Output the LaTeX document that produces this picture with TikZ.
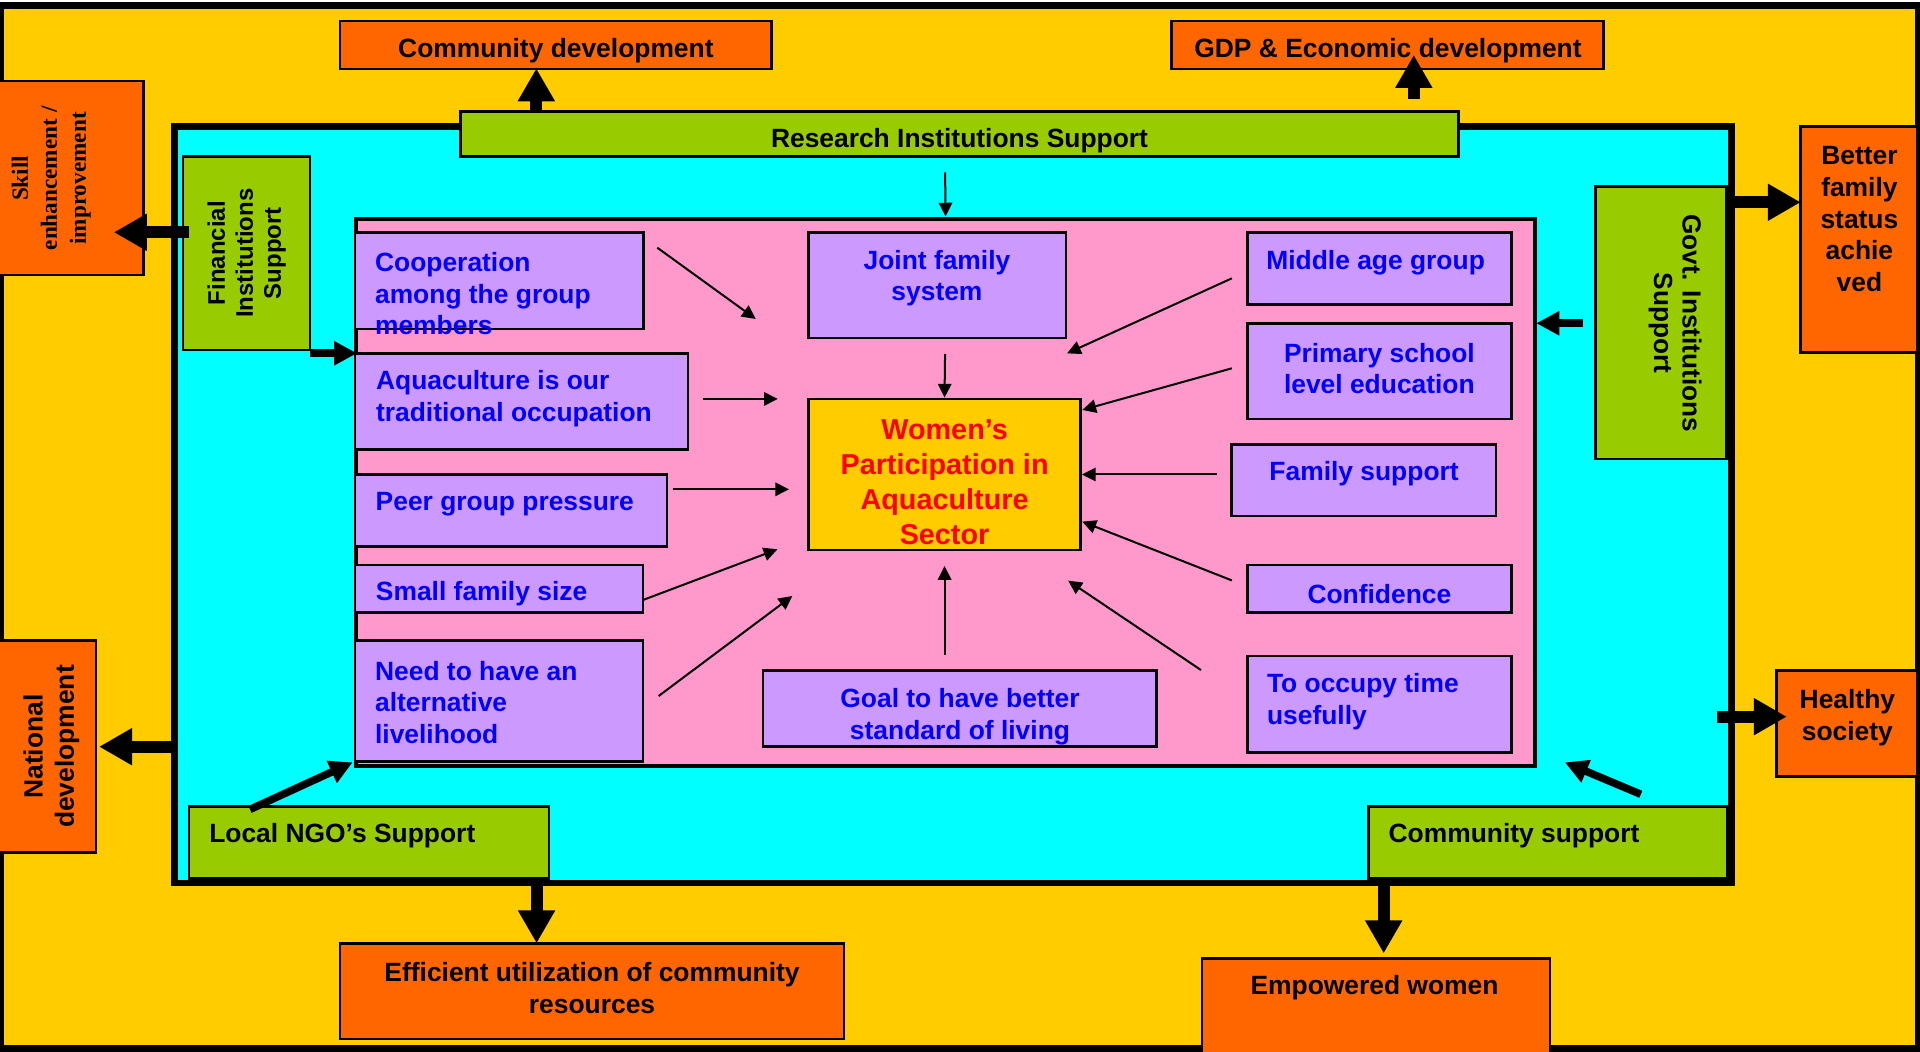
\documentclass[tikz,border=0pt]{standalone}
\usepackage{fontspec}
\setmainfont{Liberation Sans}
\newfontfamily\skillserif{Liberation Serif}
\usetikzlibrary{arrows.meta,fit}

\definecolor{bgyellow}{HTML}{FFCC00}
\definecolor{boxorange}{HTML}{FF6600}
\definecolor{boxgreen}{HTML}{99CC00}
\definecolor{boxpink}{HTML}{FF99CC}
\definecolor{boxlilac}{HTML}{CC99FF}
\definecolor{fieldcyan}{HTML}{00FFFF}

\newcommand{\boxfont}{\fontsize{13.2}{15.9}\selectfont\bfseries}
\newcommand{\goalfont}{\fontsize{14.4}{17.5}\selectfont\bfseries}

\begin{document}
\begin{tikzpicture}[x=0.6122pt, y=-0.6122pt,
	outbox/.style={draw=black, line width=1.3pt, fill=boxorange, inner sep=0pt},
	supbox/.style={draw=black, line width=1.3pt, fill=boxgreen, inner sep=0pt},
	factbox/.style={draw=black, line width=1.3pt, fill=boxlilac, inner sep=0pt},
	lbl/.style={inner sep=0pt, font=\boxfont, yshift=-1.2pt},
	factlbl/.style={lbl, text=blue},
	bigarrow/.style={line width=6pt, -{Triangle[width=17.5pt,length=16.5pt]}},
	midarrow/.style={line width=3.8pt, -{Triangle[width=11.5pt,length=11.5pt]}},
	thinarrow/.style={line width=1pt, -{Triangle[width=6.7pt,length=6.9pt]}}]
			%%%%% START %%%%%
			
			\useasboundingbox (0,0) rectangle (1568,859);
			\node[draw=black, line width=3.5pt, fill=bgyellow, inner sep=0pt, fit={(0.5,4.5) (1566.5,856)}] (frame) {};
			
			% outcomes
			\node[outbox, fit={(277.5,17) (630,56.3)}] (comdev) {};
			\node[outbox, fit={(956.8,17) (1309.7,56.3)}] (gdp) {};
			\node[outbox, fit={(-5,66) (117.4,224.6)}] (skill) {};
			\node[outbox, fit={(1470.6,103.4) (1566,288)}] (better) {};
			\node[outbox, fit={(1450.6,547.7) (1566,634.3)}] (healthy) {};
			\node[outbox, fit={(-5,523.2) (78.4,696)}] (national) {};
			\node[outbox, fit={(277.8,770.4) (689.3,848.6)}] (efficient) {};
			\node[outbox, fit={(981.7,782.6) (1265.8,866)}] (empowered) {};
			
			\node[draw=black, line width=3.3pt, fill=fieldcyan, inner sep=0pt, fit={(142.3,103.5) (1414,721)}] (field) {};
			\node[draw=black, line width=2pt, fill=boxpink, inner sep=0pt, fit={(291,178.5) (1253.5,625.5)}] (pink) {};
			
			% support
			\node[supbox, fit={(376,91.2) (1191.3,128)}] (research) {};
			\node[supbox, fit={(149.4,128) (253.3,285.8)}] (financial) {};
			\node[supbox, fit={(1302.8,152.5) (1410,375)}] (govt) {};
			\node[supbox, fit={(154.2,658.8) (448.4,717.3)}] (ngo) {};
			\node[supbox, fit={(1117.6,658.8) (1411,717.3)}] (commsup) {};
			
			% factors
			\node[factbox, fit={(290,189.7) (525.7,268.7)}] (coop) {};
			\node[factbox, fit={(290,288.6) (561.9,367)}] (aqua) {};
			\node[factbox, fit={(290,387.4) (544.7,446.5)}] (peer) {};
			\node[factbox, fit={(290,461.4) (525.1,500.3)}] (small) {};
			\node[factbox, fit={(290,523.3) (525.1,622)}] (need) {};
			\node[factbox, fit={(660.2,189.7) (870.6,276)}] (joint) {};
			\node[draw=black, line width=1.3pt, fill=bgyellow, inner sep=0pt, fit={(660.2,325.8) (882.5,449.2)}] (women) {};
			\node[factbox, fit={(623.1,547.7) (944.3,609.8)}] (goal) {};
			\node[factbox, fit={(1018.6,189.7) (1234.5,248.7)}] (middle) {};
			\node[factbox, fit={(1018.6,264) (1234.5,342.2)}] (primary) {};
			\node[factbox, fit={(1005.8,362.9) (1221.7,421.4)}] (family) {};
			\node[factbox, fit={(1018.6,461.4) (1234.5,500.3)}] (confid) {};
			\node[factbox, fit={(1018.6,535.7) (1234.5,614.4)}] (occupy) {};
			
			% texts
			\node[lbl] (comdevt) at (454,39.5) {Community development};
			\node[lbl] (gdpt) at (1133.5,39.5) {GDP \& Economic development};
			\node[inner sep=0pt, rotate=90, align=center, font=\fontsize{11.6}{14.5}\selectfont\skillserif\bfseries] (skillt) at (41.9,145.7) {Skill\\enhancement /\\improvement};
			\node[lbl, align=center] (bettert) at (1518.5,177) {Better\\family\\status\\achie\\ved};
			\node[lbl, align=center] (healthyt) at (1508.7,584) {Healthy\\society};
			\node[inner sep=0pt, rotate=90, align=center, font=\fontsize{13.2}{15.6}\selectfont\bfseries] (nationalt) at (42,609.7) {National\\development};
			\node[lbl, align=center] (efficientt) at (483.5,805.1) {Efficient utilization of community\\resources};
			\node[lbl] (empoweredt) at (1122.5,804.4) {Empowered women};
			
			\node[lbl] (researcht) at (783.6,113) {Research Institutions Support};
			\node[inner sep=0pt, rotate=90, align=center, font=\fontsize{12}{14}\selectfont\bfseries] (financialt) at (201.5,206.8) {Financial\\Institutions\\Support};
			\node[inner sep=0pt, rotate=-90, align=center, font=\fontsize{13.1}{14.3}\selectfont\bfseries] (govtt) at (1368,263.8) {Govt. Institutions\\Support};
			\node[lbl, anchor=west] (ngot) at (170.6,680.6) {Local NGO’s Support};
			\node[lbl, anchor=west] (commsupt) at (1133.7,680.6) {Community support};
			
			\node[factlbl, anchor=west, align=left] (coopt) at (306,237.9) {Cooperation\\among the group\\members};
			\node[factlbl, anchor=west, align=left] (aquat) at (306.8,323.5) {Aquaculture is our\\traditional occupation};
			\node[factlbl, anchor=west] (peert) at (306.5,409.7) {Peer group pressure};
			\node[factlbl, anchor=west] (smallt) at (306.7,483.2) {Small family size};
			\node[factlbl, anchor=west, align=left] (needt) at (306,571.7) {Need to have an\\alternative\\livelihood};
			\node[factlbl, align=center] (jointt) at (765.2,225.2) {Joint family\\system};
			\node[inner sep=0pt, font=\goalfont, text=red, align=center, yshift=-1.2pt] (womentt) at (771.4,392) {Women’s\\Participation in\\Aquaculture\\Sector};
			\node[factlbl, align=center] (goalt) at (784,583.2) {Goal to have better\\standard of living};
			\node[factlbl] (middlet) at (1123.4,212.3) {Middle age group};
			\node[factlbl, align=center] (primaryt) at (1126.5,299.1) {Primary school\\level education};
			\node[factlbl] (familyt) at (1114,384.7) {Family support};
			\node[factlbl] (confidt) at (1126.5,483) {Confidence};
			\node[factlbl, anchor=west, align=left] (occupyt) at (1034.4,571) {To occupy time\\usefully};
			
			% arrow ends
			\coordinate (cdA) at (438,92.5);     \coordinate (cdB) at (438,55.8);
			\coordinate (gdpA) at (1154.6,80.8); \coordinate (gdpB) at (1154.6,44.9);
			\coordinate (skA) at (154,189.7);    \coordinate (skB) at (93,189.7);
			\coordinate (finA) at (253.3,288.5); \coordinate (finB) at (291.6,288.5);
			\coordinate (govA) at (1292.8,264);  \coordinate (govB) at (1254.6,264);
			\coordinate (btA) at (1416,165.2);   \coordinate (btB) at (1470.6,165.2);
			\coordinate (hsA) at (1401.8,585.3); \coordinate (hsB) at (1459.2,585.3);
			\coordinate (ndA) at (140,609.8);    \coordinate (ndB) at (80.9,609.8);
			\coordinate (ngoA) at (204.2,661);   \coordinate (ngoB) at (288,622.6);
			\coordinate (csA) at (1340,648.7);   \coordinate (csB) at (1278,622.6);
			\coordinate (efA) at (438.2,721);    \coordinate (efB) at (438.2,770.4);
			\coordinate (emA) at (1130,721);     \coordinate (emB) at (1130,778.6);
			
			\draw[bigarrow] (cdA) -- (cdB);
			\draw[bigarrow] (gdpA) -- (gdpB);
			\draw[bigarrow] (skA) -- (skB);
			\draw[midarrow] (finA) -- (finB);
			\draw[midarrow] (govA) -- (govB);
			\draw[bigarrow] (btA) -- (btB);
			\draw[bigarrow] (hsA) -- (hsB);
			\draw[bigarrow] (ndA) -- (ndB);
			\draw[midarrow] (ngoA) -- (ngoB);
			\draw[midarrow] (csA) -- (csB);
			\draw[bigarrow] (efA) -- (efB);
			\draw[bigarrow] (emA) -- (emB);
			
			\coordinate (resA) at (771.8,140.7);
			\coordinate (coopA) at (536.8,202.3);  \coordinate (coopB) at (617.2,260.5);
			\coordinate (jointA) at (771.8,289.1);
			\coordinate (aquaA) at (574,325.8);    \coordinate (aquaB) at (635.2,325.8);
			\coordinate (peerA) at (549.4,399.6);  \coordinate (peerB) at (644.4,399.6);
			\coordinate (smallA) at (525.1,490);   \coordinate (smallB) at (634.9,448.6);
			\coordinate (needA) at (537.9,568.4);  \coordinate (needB) at (647.1,486.7);
			\coordinate (goalA) at (771.4,534.9);  \coordinate (goalB) at (771.4,462.2);
			\coordinate (midA) at (1006,227.3);    \coordinate (midB) at (871.4,288.6);
			\coordinate (primA) at (1006,300.8);   \coordinate (primB) at (883.9,334.8);
			\coordinate (famA) at (993.6,387.5);
			\coordinate (confA) at (1006,474);     \coordinate (confB) at (883.9,426);
			\coordinate (occA) at (980.8,547.2);   \coordinate (occB) at (872.3,474.2);
			
			\draw[thinarrow] (resA) -- (pink.north);
			\draw[thinarrow] (coopA) -- (coopB);
			\draw[thinarrow] (jointA) -- (women.north);
			\draw[thinarrow] (aquaA) -- (aquaB);
			\draw[thinarrow] (peerA) -- (peerB);
			\draw[thinarrow] (smallA) -- (smallB);
			\draw[thinarrow] (needA) -- (needB);
			\draw[thinarrow] (goalA) -- (goalB);
			\draw[thinarrow] (midA) -- (midB);
			\draw[thinarrow] (primA) -- (primB);
			\draw[thinarrow] (famA) -- (women.east);
			\draw[thinarrow] (confA) -- (confB);
			\draw[thinarrow] (occA) -- (occB);
			
			%%%%% END %%%%%
		\end{tikzpicture}
\end{document}
